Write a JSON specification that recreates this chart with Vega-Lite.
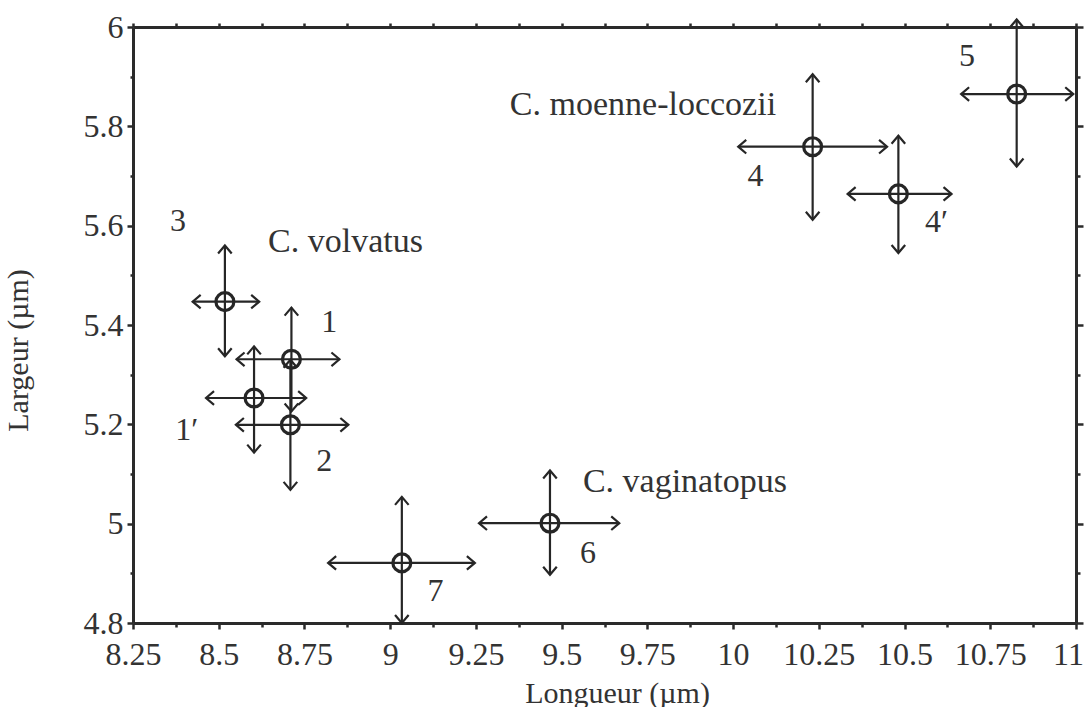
{
  "$schema": "https://vega.github.io/schema/vega-lite/v6.json",
  "width": 943,
  "height": 596,
  "autosize": {"type": "none"},
  "padding": {"left": 133, "top": 27, "right": 13, "bottom": 84},
  "background": "white",
  "config": {
    "view": {"stroke": null},
    "axis": {
      "grid": false,
      "domainColor": "#2a2a2a",
      "domainWidth": 3,
      "tickColor": "#2a2a2a",
      "tickWidth": 2.5,
      "labelFont": "Liberation Serif",
      "labelFontSize": 32,
      "labelColor": "#333333",
      "titleFont": "Liberation Serif",
      "titleFontSize": 30,
      "titleFontWeight": "normal",
      "titleColor": "#333333",
      "labelFlush": false,
      "labelOverlap": false
    }
  },
  "data": {
    "values": [
      {"id": "3", "x": 8.518, "y": 5.447, "xlo": 8.424, "xhi": 8.618, "ylo": 5.337, "yhi": 5.56},
      {"id": "1", "x": 8.712, "y": 5.331, "xlo": 8.552, "xhi": 8.852, "ylo": 5.226, "yhi": 5.435},
      {"id": "1′", "x": 8.603, "y": 5.253, "xlo": 8.463, "xhi": 8.755, "ylo": 5.143, "yhi": 5.357},
      {"id": "2", "x": 8.709, "y": 5.199, "xlo": 8.55, "xhi": 8.878, "ylo": 5.068, "yhi": 5.33},
      {"id": "7", "x": 9.034, "y": 4.921, "xlo": 8.819, "xhi": 9.247, "ylo": 4.8, "yhi": 5.054},
      {"id": "6", "x": 9.466, "y": 5.001, "xlo": 9.259, "xhi": 9.668, "ylo": 4.897, "yhi": 5.107},
      {"id": "4", "x": 10.232, "y": 5.759, "xlo": 10.015, "xhi": 10.449, "ylo": 5.612, "yhi": 5.905},
      {"id": "4′", "x": 10.482, "y": 5.664, "xlo": 10.334, "xhi": 10.637, "ylo": 5.545, "yhi": 5.781},
      {"id": "5", "x": 10.827, "y": 5.865, "xlo": 10.665, "xhi": 10.992, "ylo": 5.719, "yhi": 6.015}
    ]
  },
  "layer": [
    {
      "mark": {"type": "rule", "stroke": "#262626", "strokeWidth": 2.2},
      "encoding": {
        "x": {
          "field": "xlo", "type": "quantitative",
          "scale": {"domain": [8.25, 11], "nice": false, "zero": false},
          "axis": {
            "orient": "bottom",
            "values": [8.25, 8.375, 8.5, 8.625, 8.75, 8.875, 9, 9.125, 9.25, 9.375, 9.5, 9.625, 9.75, 9.875, 10, 10.125, 10.25, 10.375, 10.5, 10.625, 10.75, 10.875, 11],
            "tickSize": {"condition": {"test": "abs(datum.value*4 - round(datum.value*4)) < 0.01", "value": 6}, "value": 4},
            "labelExpr": "abs(datum.value*4 - round(datum.value*4)) < 0.01 ? format(datum.value, '~g') : ''",
            "labelOffset": {"condition": {"test": "datum.value > 10.9", "value": -8}, "value": 0},
            "labelPadding": 10,
            "title": "Longueur (µm)",
            "titleX": 484,
            "titleY": 79,
            "titleAlign": "center",
            "titleBaseline": "alphabetic"
          }
        },
        "x2": {"field": "xhi"},
        "y": {
          "field": "y", "type": "quantitative",
          "scale": {"domain": [4.8, 6], "nice": false, "zero": false},
          "axis": {
            "orient": "left",
            "values": [4.8, 4.9, 5, 5.1, 5.2, 5.3, 5.4, 5.5, 5.6, 5.7, 5.8, 5.9, 6],
            "tickSize": {"condition": {"test": "abs(datum.value*5 - round(datum.value*5)) < 0.01", "value": 6}, "value": 3},
            "labelExpr": "abs(datum.value*5 - round(datum.value*5)) < 0.01 ? format(datum.value, '~g') : ''",
            "labelPadding": 4,
            "title": "Largeur (µm)",
            "titleX": -106,
            "titleY": 323,
            "titleAngle": -90,
            "titleAlign": "center",
            "titleBaseline": "alphabetic"
          }
        }
      }
    },
    {
      "mark": {"type": "rule", "stroke": "#262626", "strokeWidth": 2.2},
      "encoding": {
        "x": {
          "field": "x", "type": "quantitative",
          "scale": {"domain": [8.25, 11], "nice": false, "zero": false},
          "axis": {
            "orient": "top",
            "values": [8.25, 8.375, 8.5, 8.625, 8.75, 8.875, 9, 9.125, 9.25, 9.375, 9.5, 9.625, 9.75, 9.875, 10, 10.125, 10.25, 10.375, 10.5, 10.625, 10.75, 10.875, 11],
            "tickSize": 4,
            "labels": false,
            "title": null
          }
        },
        "y": {
          "field": "ylo", "type": "quantitative",
          "scale": {"domain": [4.8, 6], "nice": false, "zero": false},
          "axis": {
            "orient": "right",
            "values": [4.8, 4.9, 5, 5.1, 5.2, 5.3, 5.4, 5.5, 5.6, 5.7, 5.8, 5.9, 6],
            "tickSize": {"condition": {"test": "abs(datum.value*5 - round(datum.value*5)) < 0.01", "value": 7}, "value": 4},
            "labels": false,
            "title": null
          }
        },
        "y2": {"field": "yhi"}
      }
    },
    {
      "mark": {"type": "point", "filled": false, "stroke": "#262626", "strokeWidth": 3.2, "opacity": 1, "size": 320, "shape": "circle"},
      "encoding": {
        "x": {"field": "x", "type": "quantitative", "axis": null},
        "y": {"field": "y", "type": "quantitative", "axis": null}
      }
    },
    {
      "mark": {"type": "point", "filled": false, "stroke": "#262626", "strokeWidth": 2.2, "opacity": 1, "size": 256, "shape": "M -1 -0.85 L 0 0 L -1 0.85"},
      "encoding": {
        "x": {"field": "xhi", "type": "quantitative", "axis": null},
        "y": {"field": "y", "type": "quantitative", "axis": null}
      }
    },
    {
      "mark": {"type": "point", "filled": false, "stroke": "#262626", "strokeWidth": 2.2, "opacity": 1, "size": 256, "shape": "M 1 -0.85 L 0 0 L 1 0.85"},
      "encoding": {
        "x": {"field": "xlo", "type": "quantitative", "axis": null},
        "y": {"field": "y", "type": "quantitative", "axis": null}
      }
    },
    {
      "mark": {"type": "point", "filled": false, "stroke": "#262626", "strokeWidth": 2.2, "opacity": 1, "size": 256, "shape": "M -0.85 1 L 0 0 L 0.85 1"},
      "encoding": {
        "x": {"field": "x", "type": "quantitative", "axis": null},
        "y": {"field": "yhi", "type": "quantitative", "axis": null}
      }
    },
    {
      "mark": {"type": "point", "filled": false, "stroke": "#262626", "strokeWidth": 2.2, "opacity": 1, "size": 256, "shape": "M -0.85 -1 L 0 0 L 0.85 -1"},
      "encoding": {
        "x": {"field": "x", "type": "quantitative", "axis": null},
        "y": {"field": "ylo", "type": "quantitative", "axis": null}
      }
    },
    {
      "data": {
        "values": [
          {"label": "3", "lx": 8.381, "ly": 5.61},
          {"label": "1", "lx": 8.822, "ly": 5.406},
          {"label": "1′", "lx": 8.407, "ly": 5.189},
          {"label": "2", "lx": 8.808, "ly": 5.127},
          {"label": "7", "lx": 9.132, "ly": 4.865},
          {"label": "6", "lx": 9.577, "ly": 4.94},
          {"label": "4", "lx": 10.065, "ly": 5.7},
          {"label": "4′", "lx": 10.593, "ly": 5.607},
          {"label": "5", "lx": 10.682, "ly": 5.942}
        ]
      },
      "mark": {"type": "text", "font": "Liberation Serif", "fontSize": 32, "color": "#333333", "align": "center", "baseline": "middle"},
      "encoding": {
        "x": {"field": "lx", "type": "quantitative", "axis": null},
        "y": {"field": "ly", "type": "quantitative", "axis": null},
        "text": {"field": "label"}
      }
    },
    {
      "data": {
        "values": [
          {"label": "C. volvatus", "lx": 8.644, "ly": 5.567},
          {"label": "C. vaginatopus", "lx": 9.562, "ly": 5.083},
          {"label": "C. moenne-loccozii", "lx": 9.349, "ly": 5.843}
        ]
      },
      "mark": {"type": "text", "font": "Liberation Serif", "fontSize": 34, "color": "#333333", "align": "left", "baseline": "middle"},
      "encoding": {
        "x": {"field": "lx", "type": "quantitative", "axis": null},
        "y": {"field": "ly", "type": "quantitative", "axis": null},
        "text": {"field": "label"}
      }
    }
  ],
  "resolve": {"axis": {"x": "independent", "y": "independent"}}
}
